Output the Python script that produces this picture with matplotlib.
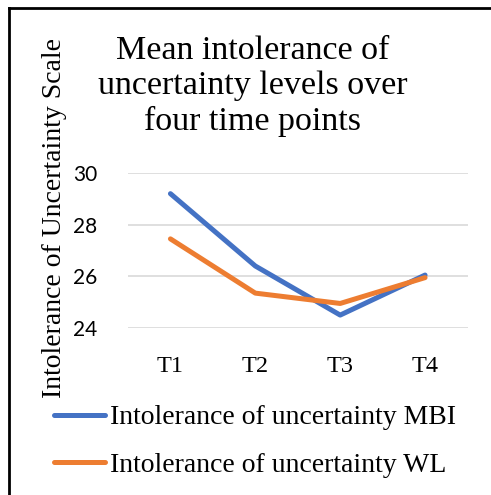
import matplotlib.pyplot as plt
from matplotlib.lines import Line2D

# data
time_points = ['T1', 'T2', 'T3', 'T4']
mbi = [29.2, 26.4, 24.5, 26.05]
wl = [27.45, 25.35, 24.95, 25.95]
series_names = ['Intolerance of uncertainty MBI', 'Intolerance of uncertainty WL']
y_ticks = [24, 26, 28, 30]

serif = ['Liberation Serif', 'DejaVu Serif']
sans = ['Lato', 'DejaVu Sans']

W, H = 491, 495
fig = plt.figure(figsize=(W / 100, H / 100), dpi=100)

# axes box in pixel units -> figure fractions
left, right, top, bottom = 128, 467.5, 173, 328
ax = fig.add_axes([left / W, 1 - bottom / H, (right - left) / W, (bottom - top) / H])

x = range(len(time_points))
ax.plot(x, mbi, color='#4472C4', lw=3.6, solid_capstyle='round', zorder=3)
ax.plot(x, wl, color='#ED7D31', lw=3.6, solid_capstyle='round', zorder=3)

ax.set_xlim(-0.5, 3.5)
ax.set_ylim(24, 30)
ax.set_yticks(y_ticks)
ax.set_xticks(list(x))
ax.set_xticklabels(time_points, family=serif, fontsize=17.5)
ax.set_yticklabels([str(v) for v in y_ticks], family=sans, fontsize=15)
ax.tick_params(axis='both', length=0)
ax.tick_params(axis='y', pad=22)
ax.tick_params(axis='x', pad=20)
ax.grid(axis='y', color='#D9D9D9', lw=1.2)
ax.set_axisbelow(True)
for s in ax.spines.values():
    s.set_visible(False)

# y label
fig.text(55 / W, 1 - 218 / H, 'Intolerance of Uncertainty Scale', rotation=90,
         ha='center', va='center', family=serif, fontsize=20)

# title
fig.text(253 / W, 1 - 86 / H, 'Mean intolerance of\nuncertainty levels over\nfour time points',
         ha='center', va='center', family=serif, fontsize=24.5, linespacing=1.2)

# legend, placed like the reference
handles = [Line2D([0], [0], color='#4472C4', lw=3.6, solid_capstyle='round'),
           Line2D([0], [0], color='#ED7D31', lw=3.6, solid_capstyle='round')]
fig.legend(handles, series_names, loc='upper left', bbox_to_anchor=(54 / W, 1 - 405 / H),
           frameon=False, prop={'family': serif, 'size': 20}, handlelength=1.85,
           handletextpad=0.15, labelspacing=0.8, borderaxespad=0, borderpad=0)

# frame around the chart (left and top edges visible)
fig.add_artist(Line2D([8.5 / W, 8.5 / W], [1 - 8 / H, 0], color='black', lw=2))
fig.add_artist(Line2D([8.5 / W, 1], [1 - 8 / H, 1 - 8 / H], color='black', lw=2))

fig.savefig('out.png', dpi=100)
